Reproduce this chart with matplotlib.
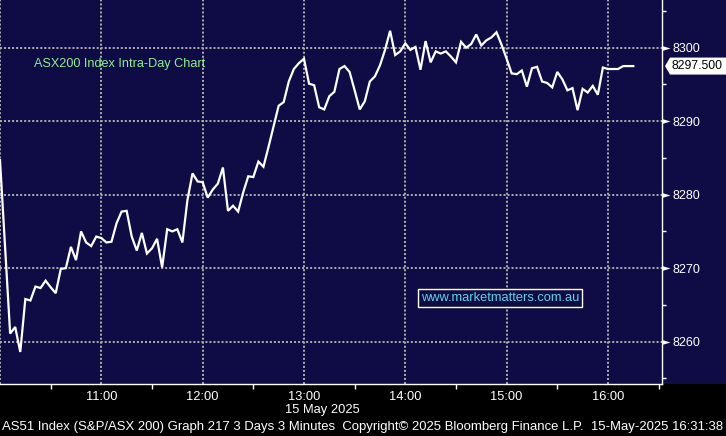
import numpy as np
import pandas as pd
import matplotlib
matplotlib.use('Agg')
import matplotlib.pyplot as plt
import matplotlib.dates as mdates
from matplotlib.patches import Rectangle, Polygon
from matplotlib.path import Path
from matplotlib.ticker import MultipleLocator, FuncFormatter

plt.rcParams['font.family'] = ['Liberation Sans', 'DejaVu Sans']

# 3 minute bars, AS51 15 May 2025
session_start = '2025-05-15 10:00'
bar_minutes = 3
closes = [
    8284.7, 8272.9, 8261.1, 8262.0, 8258.6, 8265.8, 8265.6, 8267.5, 8267.3, 8268.3,
    8267.4, 8266.6, 8269.9, 8270.0, 8272.9, 8271.1, 8275.0, 8273.5, 8273.0, 8274.3,
    8274.1, 8273.5, 8273.6, 8276.1, 8277.7, 8277.8, 8274.3, 8272.4, 8274.8, 8272.0,
    8272.7, 8274.0, 8270.1, 8275.3, 8275.0, 8275.3, 8273.5, 8279.3, 8282.9, 8281.8,
    8281.7, 8279.6, 8280.7, 8281.5, 8283.7, 8277.8, 8278.5, 8277.7, 8280.3, 8282.5,
    8282.4, 8284.5, 8283.8, 8286.5, 8289.3, 8292.1, 8292.6, 8295.4, 8297.1, 8297.9,
    8298.5, 8295.1, 8294.9, 8291.9, 8291.6, 8293.4, 8294.0, 8297.1, 8297.5, 8296.7,
    8294.2, 8291.6, 8292.7, 8295.4, 8296.1, 8297.6, 8299.7, 8302.3, 8299.0, 8299.5,
    8300.6, 8299.7, 8300.1, 8297.0, 8300.9, 8298.0, 8299.5, 8299.2, 8299.5, 8298.8,
    8298.0, 8300.8, 8300.0, 8300.5, 8301.8, 8300.3, 8301.0, 8301.4, 8302.1, 8300.4,
    8298.5, 8296.5, 8296.4, 8296.9, 8294.7, 8297.2, 8297.4, 8295.4, 8295.2, 8294.6,
    8296.7, 8295.7, 8294.2, 8294.5, 8291.5, 8294.4, 8293.9, 8294.8, 8293.6, 8297.3,
    8297.1, 8297.1, 8297.1, 8297.5, 8297.5, 8297.5,
]
x_limits = ('2025-05-15 10:00', '2025-05-15 16:32')
y_limits = (8254.24, 8306.49)

chart_title = 'ASX200 Index Intra-Day Chart'
watermark = 'www.marketmatters.com.au'
date_label = '15 May 2025'
footer = ('AS51 Index (S&P/ASX 200) Graph 217 3 Days 3 Minutes  '
          'Copyright\u00a9 2025 Bloomberg Finance L.P.  15-May-2025 16:31:38')

navy = '#0f0c45'
grid_col = '#a8a8a8'

times = pd.date_range(session_start, periods=len(closes), freq=f'{bar_minutes}min')

W, H = 726, 436
fig = plt.figure(figsize=(W / 100, H / 100), dpi=100, facecolor='black')
fig.patches.append(Rectangle((0, 52 / H), 1, 384 / H, transform=fig.transFigure,
                             facecolor=navy, edgecolor='none', zorder=-5))
ax = fig.add_axes([0, 52 / H, 662 / W, 384 / H], facecolor=navy)
ax.set_zorder(1)

ax.plot(times, closes, color='white', lw=1.6, solid_joinstyle='miter', zorder=3)

ax.set_xlim(pd.Timestamp(x_limits[0]), pd.Timestamp(x_limits[1]))
ax.set_ylim(*y_limits)

# x axis: hours labelled, half hours ticked
ax.xaxis.set_major_locator(mdates.HourLocator())
ax.xaxis.set_minor_locator(mdates.MinuteLocator(byminute=[30]))


def hour_fmt(v, pos):
    d = mdates.num2date(v)
    return '' if d.hour == 10 else d.strftime('%H:%M')


ax.xaxis.set_major_formatter(FuncFormatter(hour_fmt))
ax.tick_params(axis='x', which='major', length=0, pad=5, colors='white', labelsize=9.3)
ax.tick_params(axis='x', which='minor', length=3.5, width=1, direction='out', color='white')

# y axis on the right
ax.yaxis.tick_right()
ax.yaxis.set_major_locator(MultipleLocator(10))
ax.yaxis.set_minor_locator(MultipleLocator(5))
ax.tick_params(axis='y', which='major', length=0, pad=7.5, colors='white', labelsize=9)
ax.tick_params(axis='y', which='minor', length=3, width=1, direction='out', color='white')

# arrow heads on the major y ticks
tri = Path([(0, -0.3), (1, 0), (0, 0.3), (0, -0.3)],
           [Path.MOVETO, Path.LINETO, Path.LINETO, Path.CLOSEPOLY])
yt = [v for v in ax.get_yticks() if y_limits[0] <= v <= y_limits[1]]
ax.plot([1] * len(yt), yt, ls='none', marker=tri, markersize=11.5, color='white',
        markeredgewidth=0, transform=ax.get_yaxis_transform(), clip_on=False)

for s in ['left', 'top']:
    ax.spines[s].set_visible(False)
for s in ['right', 'bottom']:
    ax.spines[s].set_color('white')
    ax.spines[s].set_linewidth(1.0)

ax.grid(which='major', color=grid_col, linestyle=(0, (1.0, 1.0)), lw=1.45)
ax.set_axisbelow(True)

# last price tag
fig.canvas.draw()
ty = ax.transData.transform((mdates.date2num(times[-1]), closes[-1]))[1]
tx = ax.transAxes.transform((1, 0))[0] + 3
tag = Polygon([(tx, ty), (tx + 5, ty + 8.5), (W, ty + 8.5), (W, ty - 8.5), (tx + 5, ty - 8.5)],
              closed=True, facecolor='white', edgecolor='none', transform=None, zorder=5)
fig.patches.append(tag)
fig.text((tx + 6) / W, ty / H, f'{closes[-1]:.3f}', color='black', fontsize=8.8,
         ha='left', va='center', zorder=6)

fig.text(34 / W, 1 - 64 / H, chart_title, color='#8fef8f', fontsize=9.1, ha='left', va='center')
fig.text(500 / W, 1 - 298 / H, watermark, color='#5fd3e8', fontsize=9.3, ha='center', va='center',
         bbox=dict(boxstyle='square,pad=0.2', facecolor=navy, edgecolor='white', lw=1.0))
fig.text(322 / W, 1 - 410 / H, date_label, color='white', fontsize=9.3, ha='center', va='center')
fig.text(2 / W, 1 - 427 / H, footer, color='white', fontsize=9.45, ha='left', va='center')

plt.savefig('out.png', dpi=100, facecolor='black')
